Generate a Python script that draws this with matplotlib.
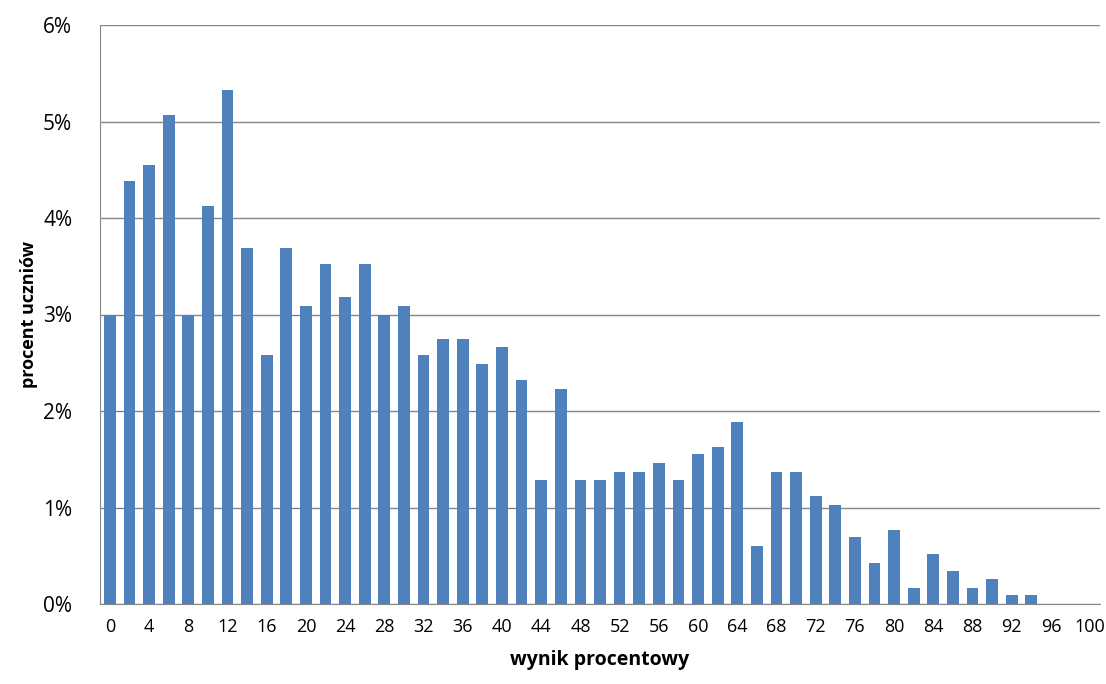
import numpy as np
import matplotlib.pyplot as plt
from matplotlib.ticker import PercentFormatter

plt.rcParams['font.family'] = ['Open Sans', 'DejaVu Sans']

wynik = list(range(0, 101, 2))
procent = [3.0, 4.38, 4.55, 5.07, 3.0, 4.12, 5.33, 3.69, 2.58, 3.69,
           3.09, 3.52, 3.18, 3.52, 3.0, 3.09, 2.58, 2.75, 2.75, 2.49,
           2.66, 2.32, 1.29, 2.23, 1.29, 1.29, 1.37, 1.37, 1.46, 1.29,
           1.55, 1.63, 1.89, 0.60, 1.37, 1.37, 1.12, 1.03, 0.69, 0.43,
           0.77, 0.17, 0.52, 0.34, 0.17, 0.26, 0.09, 0.09, 0, 0, 0]

fig = plt.figure(figsize=(11.06, 6.84), dpi=100)
ax = fig.add_axes([100 / 1106, 1 - 604 / 684, 1000 / 1106, 579 / 684])

x = np.arange(len(wynik))
ax.bar(x, procent, width=0.6, color='#4f81bd', zorder=2)
ax.set_xlim(-0.5, len(wynik) - 0.5)
ax.set_ylim(0, 6)
ax.set_yticks(range(0, 7))
ax.yaxis.set_major_formatter(PercentFormatter(decimals=0))
ax.set_xticks(x[::2])
ax.set_xticklabels([str(w) for w in wynik[::2]])
ax.tick_params(axis='x', labelsize=13, length=0, pad=10)
ax.tick_params(axis='y', labelsize=15, length=0, pad=20)
ax.grid(axis='y', color='#868686', linewidth=1, zorder=0)
for s in ['top', 'right']:
    ax.spines[s].set_visible(False)
ax.spines['left'].set_color('#868686')
ax.spines['bottom'].set_color('#868686')
ax.set_xlabel('wynik procentowy', fontsize=14, fontweight='bold', labelpad=10)
ax.set_ylabel('procent uczniów', fontsize=13, fontweight='bold', labelpad=4)

fig.savefig('out.png', dpi=100)
